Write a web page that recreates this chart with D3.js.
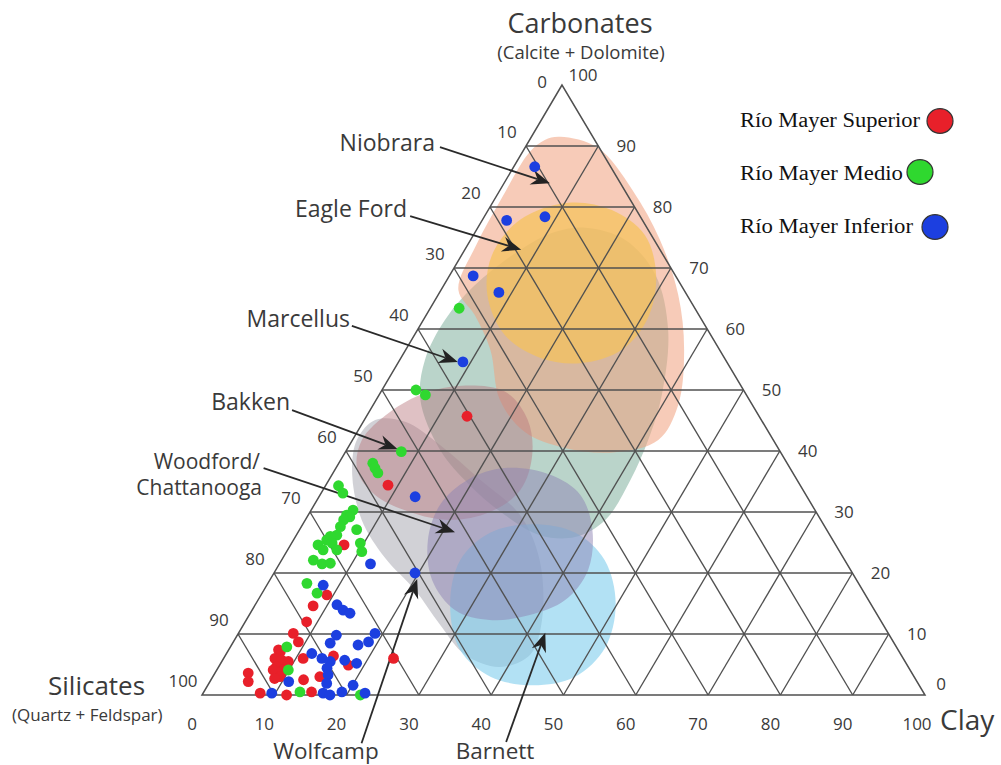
<!DOCTYPE html>
<html><head><meta charset="utf-8">
<script src="https://cdn.jsdelivr.net/npm/d3@7"></script>
<style>body{margin:0;background:#fff}svg{display:block}</style>
</head><body>
<svg id="chart" width="1001" height="765"></svg>
<script>
// ---------- DATA (ternary: [Carbonates %, Clay %]; Silicates = 100 - both) ----------
const tickValues = [0,10,20,30,40,50,60,70,80,90,100];
const gridValues = [10,20,30,40,50,60,70,80,90];

const seriesNames = ["Río Mayer Superior","Río Mayer Medio","Río Mayer Inferior"];

const superior = [[16.4,9.1],[14.6,8.1],[12.0,8.5],[10.1,7.6],[8.7,9.0],[7.1,7.3],[7.4,6.9],[6.0,7.1],
  [5.7,8.2],[5.5,9.2],[4.6,8.0],[4.1,7.8],[4.1,9.2],[3.8,9.1],[3.0,9.3],[2.7,8.7],[6.0,11.0],[6.4,15.0],
  [4.9,17.8],[3.6,4.6],[2.2,5.3],[3.0,14.8],[2.5,12.8],[6.0,23.5],[0.3,7.9],[0.0,11.7],[0.5,14.9],
  [24.6,7.4],[34.4,8.6],[45.7,13.9]];

const medio = [[63.4,4.0],[50.0,4.7],[49.2,6.4],[39.9,7.7],[38.0,4.7],[37.2,5.4],[36.4,6.2],[34.3,1.8],
  [33.1,3.0],[30.3,5.8],[29.5,5.3],[29.2,5.9],[28.7,5.3],[27.6,5.4],[27.1,7.9],[26.2,5.6],[26.0,4.8],
  [25.4,4.6],[24.9,5.6],[24.6,3.8],[23.8,4.9],[23.8,6.8],[24.9,9.5],[23.5,10.4],[22.1,4.4],[21.5,5.9],
  [21.6,7.0],[18.3,5.4],[16.7,7.6],[7.9,7.8],[4.1,9.9],[0.5,13.3],[0.0,21.9]];

const inferior = [[86.6,2.9],[77.8,3.4],[78.4,8.4],[68.7,3.3],[66.0,8.2],[54.6,8.9],[32.5,13.3],[20.0,19.5],
  [21.5,12.6],[18.0,7.8],[14.8,11.3],[13.9,12.6],[13.4,13.8],[9.8,13.7],[10.1,18.9],[8.7,18.7],[8.2,17.5],
  [8.5,13.5],[6.8,11.8],[6.0,13.6],[5.5,15.0],[4.4,15.1],[3.3,15.8],[5.7,16.9],[5.2,18.8],[2.2,10.9],
  [1.9,16.3],[0.3,9.5],[0.3,16.6],[0.0,17.7],[0.5,19.1],[1.6,20.1],[0.3,22.4]];

// shale play fields (outlines, ternary units)
const marcellusZone = [[76.6,14.9],[74.6,21.4],[68.9,28.4],[59.8,34.7],[49.2,39.1],[41.8,40.9],[35.3,41.7],
  [28.7,41.5],[25.9,38.7],[26.2,33.7],[29.5,27.2],[34.4,19.9],[40.2,12.9],[48.4,6.1],[54.9,3.5],[61.5,3.0],
  [67.2,4.3],[73.0,7.7],[75.9,11.0]];
const niobraraZone = [[91.5,4.0],[89.7,10.1],[82.8,18.3],[74.6,26.2],[65.6,33.2],[56.6,38.5],[47.5,42.2],
  [41.8,42.3],[39.8,37.3],[40.5,30.0],[43.1,23.2],[48.4,17.1],[56.6,11.7],[62.3,6.7],[66.4,2.4],[73.8,1.2],
  [81.5,0.9],[89.0,1.0],[91.0,2.1]];
const eagleFordZone = [[80.7,10.5],[79.5,17.1],[75.4,23.7],[68.9,28.5],[61.8,30.9],[56.6,29.9],[54.4,25.2],
  [55.3,19.2],[59.0,12.5],[65.6,6.8],[72.1,4.2],[77.9,5.2]];
const wolfcampZone = [[45.1,1.5],[44.8,5.8],[41.0,12.5],[35.3,20.9],[29.5,29.3],[22.1,35.7],[12.3,40.9],
  [6.6,42.1],[4.6,38.9],[6.6,33.1],[11.5,27.2],[17.2,20.9],[22.5,14.1],[28.7,7.8],[36.1,2.8],[41.8,0.6]];
const bakkenZone = [[50.7,10.7],[49.7,17.2],[45.1,22.6],[39.3,26.1],[33.6,27.3],[30.0,24.9],[28.7,20.0],
  [30.0,13.8],[32.8,7.6],[36.9,3.1],[41.8,1.3],[46.4,2.9],[49.5,6.2]];
const woodfordZone = [[37.2,23.4],[36.1,30.2],[32.8,36.0],[27.1,40.5],[20.5,43.2],[15.6,42.5],[13.1,38.8],
  [12.3,33.7],[13.9,28.1],[18.9,22.4],[25.4,18.6],[31.2,17.4],[35.3,19.2]];
const barnettZone = [[28.0,31.8],[26.6,38.4],[22.1,44.7],[14.9,49.8],[7.7,51.9],[3.0,50.1],[1.6,45.0],
  [3.0,38.4],[7.4,32.0],[14.9,26.9],[22.1,24.7],[26.6,26.6]];

// annotation arrows: from label to field (ternary units, may lie outside triangle)
const playNames = ["Niobrara","Eagle Ford","Marcellus","Bakken","Woodford/Chattanooga","Wolfcamp","Barnett"];
const arrowFrom = [[89.8,-11.8],[78.5,-10.3],[60.5,-9.4],[46.7,-10.8],[37.2,-10.0],[-7.9,26.0],[-7.7,45.9]];
const arrowTo   = [[83.9,6.35],[73.0,7.8],[54.6,8.2],[40.3,7.0],[26.7,21.7],[19.0,20.3],[10.2,42.4]];

// ---------- LAYOUT ----------
const svg = d3.select('#chart');
const yS = d3.scaleLinear().domain([0,100]).range([695,85]);   // carbonates
const xS = d3.scaleLinear().domain([0,100]).range([202,925]);  // clay along base
const apexShift = (562-202)/(925-202);
const px = (c,k) => xS(k + c*apexShift);
const py = (c,k) => yS(c);
const P = d => [px(d[0],d[1]), py(d[0],d[1])];

const SANS = "'Open Sans', 'Noto Sans', sans-serif";
const TXT = '#3a3a3a';

// ---------- fields ----------
const zones = [
  {pts: marcellusZone, fill:'#8cb8a6', op:0.6},
  {pts: niobraraZone,  fill:'#f0a07e', op:0.55},
  {pts: eagleFordZone, fill:'#f5c25a', op:0.72},
  {pts: wolfcampZone,  fill:'#9a9aa4', op:0.45},
  {pts: bakkenZone,    fill:'#b8767c', op:0.45},
  {pts: barnettZone,   fill:'#7fcdec', op:0.6},
  {pts: woodfordZone,  fill:'#8e84b4', op:0.5},
];
const blob = d3.line().x(d=>P(d)[0]).y(d=>P(d)[1]).curve(d3.curveCatmullRomClosed.alpha(0.5));
svg.append('g').selectAll('path').data(zones).join('path')
  .attr('d', d=>blob(d.pts)).attr('fill', d=>d.fill).attr('fill-opacity', d=>d.op);

// ---------- grid ----------
const grid = svg.append('g').attr('stroke','#505050').attr('stroke-width',1.35).attr('fill','none');
const seg = (a,b) => grid.append('line').attr('x1',P(a)[0]).attr('y1',P(a)[1]).attr('x2',P(b)[0]).attr('y2',P(b)[1]);
gridValues.forEach(v=>{
  seg([v,0],[v,100-v]);        // constant carbonates
  seg([0,v],[100-v,v]);        // constant clay
  seg([100-v,0],[0,100-v]);    // constant silicates
});
svg.append('path').attr('d', d3.line()([P([100,0]),P([0,0]),P([0,100])]) + 'Z')
  .attr('fill','none').attr('stroke','#505050').attr('stroke-width',1.5);

// ---------- tick labels ----------
const tl = svg.append('g').attr('font-family',SANS).attr('font-size',17).attr('fill',TXT).attr('text-anchor','middle');
tickValues.forEach(v=>{
  // left edge: silicates
  let [x,y] = P([100-v,0]);
  if (v===0) tl.append('text').attr('x',x-20).attr('y',y+3).text(v);
  else tl.append('text').attr('x',x-19).attr('y',y-8).text(v);
  // right edge: carbonates
  [x,y] = P([v,100-v]);
  if (v===100) tl.append('text').attr('x',x+21).attr('y',y-4).text(v);
  else if (v===0) tl.append('text').attr('x',x+16).attr('y',y-5).text(v);
  else tl.append('text').attr('x',x+28).attr('y',y+6).text(v);
  // bottom: clay
  [x,y] = P([0,v]);
  tl.append('text').attr('x',x-(v===100?8:10)).attr('y',y+35).text(v);
});

// ---------- axis titles ----------
svg.append('text').attr('x',580).attr('y',33).attr('text-anchor','middle').attr('font-family',SANS)
  .attr('font-size',27).attr('fill',TXT).text('Carbonates');
svg.append('text').attr('x',581).attr('y',59).attr('text-anchor','middle').attr('font-family',SANS)
  .attr('font-size',18.5).attr('fill',TXT).text('(Calcite + Dolomite)');
svg.append('text').attr('x',48).attr('y',695).attr('font-family',SANS)
  .attr('font-size',26).attr('fill',TXT).text('Silicates');
svg.append('text').attr('x',12).attr('y',721).attr('font-family',SANS)
  .attr('font-size',17).attr('fill',TXT).text('(Quartz + Feldspar)');
svg.append('text').attr('x',940).attr('y',730).attr('font-family',SANS)
  .attr('font-size',28).attr('fill',TXT).text('Clay');

// ---------- annotation arrows ----------
const ag = svg.append('g');
playNames.forEach((name,i)=>{
  const a = P(arrowFrom[i]), b = P(arrowTo[i]);
  const dx=b[0]-a[0], dy=b[1]-a[1], L=Math.hypot(dx,dy), ux=dx/L, uy=dy/L, nx=-uy, ny=ux;
  const hl=19, hw=7.5, notch=13;
  ag.append('line').attr('x1',a[0]).attr('y1',a[1]).attr('x2',b[0]-ux*notch).attr('y2',b[1]-uy*notch)
    .attr('stroke','#2a2a2a').attr('stroke-width',1.8);
  const head = [[b[0],b[1]],[b[0]-ux*hl+nx*hw,b[1]-uy*hl+ny*hw],[b[0]-ux*notch,b[1]-uy*notch],[b[0]-ux*hl-nx*hw,b[1]-uy*hl-ny*hw]];
  ag.append('path').attr('d',d3.line()(head)+'Z').attr('fill','#222');
});
const lab = svg.append('g').attr('font-family',SANS).attr('font-size',23).attr('fill',TXT);
const labelAt = (txt,x,y,anchor,fs) => lab.append('text').attr('x',x).attr('y',y).attr('text-anchor',anchor)
  .attr('font-size',fs||23).text(txt);
labelAt(playNames[0],435,151,'end');
labelAt(playNames[1],407,217,'end');
labelAt(playNames[2],350,327,'end');
labelAt(playNames[3],290,410,'end');
labelAt('Woodford/',260,469,'end',21);
labelAt('Chattanooga',262,495,'end',21);
labelAt(playNames[5],326,759,'middle',22.5);
labelAt(playNames[6],495,759,'middle',22.5);

// ---------- sample points ----------
const series = [
  {data: superior, color:'#e8202a'},
  {data: medio,    color:'#2fd82f'},
  {data: inferior, color:'#1c3fe0'},
];
const dots = svg.append('g');
series.forEach(s=>{
  dots.selectAll(null).data(s.data).join('circle')
    .attr('cx',d=>P(d)[0]).attr('cy',d=>P(d)[1]).attr('r',5.4).attr('fill',s.color);
});

// ---------- legend ----------
const legPos = [{tx:740,ty:127,tl:180,cx:940,cy:121},{tx:740,ty:180,tl:163,cx:920,cy:172},{tx:740,ty:233,tl:173,cx:935,cy:227}];
const lg = svg.append('g');
seriesNames.forEach((n,i)=>{
  const p = legPos[i];
  lg.append('text').attr('x',p.tx).attr('y',p.ty).attr('font-family',"'Liberation Serif','Times New Roman',serif")
    .attr('font-size',20).attr('fill','#111').attr('textLength',p.tl).attr('lengthAdjust','spacingAndGlyphs').text(n);
  lg.append('ellipse').attr('cx',p.cx).attr('cy',p.cy).attr('rx',13).attr('ry',12.3)
    .attr('fill',series[i].color).attr('stroke','#333').attr('stroke-width',1.2);
});
</script>
</body></html>
